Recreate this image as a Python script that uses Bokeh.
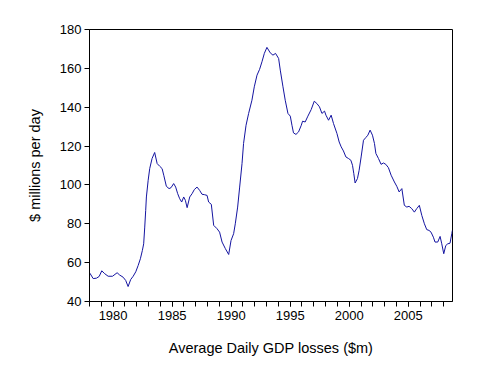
from bokeh.plotting import figure
from bokeh.models import Range1d, FixedTicker
from bokeh.embed import file_html
from bokeh.resources import INLINE

# Decimal year positions of the readings and the GDP losses ($m per day)
years = [1978.03, 1978.31, 1978.59, 1978.82, 1979.04, 1979.29, 1979.58, 1979.95,
         1980.34, 1980.56, 1980.85, 1981.07, 1981.27, 1981.49, 1981.70, 1981.92,
         1982.12, 1982.31, 1982.48, 1982.59, 1982.68, 1982.76, 1982.82, 1982.97,
         1983.10, 1983.30, 1983.52, 1983.73, 1983.95, 1984.15, 1984.29, 1984.51,
         1984.74, 1984.91, 1985.13, 1985.30, 1985.47, 1985.64, 1985.81, 1985.98,
         1986.12, 1986.27, 1986.49, 1986.69, 1986.88, 1987.11, 1987.33, 1987.53,
         1987.73, 1987.96, 1988.09, 1988.32, 1988.52, 1988.80, 1989.02, 1989.23,
         1989.51, 1989.79, 1989.99, 1990.21, 1990.35, 1990.55, 1990.72, 1990.92,
         1991.05, 1991.26, 1991.48, 1991.76, 1991.96, 1992.19, 1992.41, 1992.61,
         1992.81, 1993.03, 1993.31, 1993.54, 1993.76, 1994.02, 1994.16, 1994.39,
         1994.58, 1994.81, 1995.01, 1995.15, 1995.28, 1995.49, 1995.71, 1995.94,
         1996.05, 1996.27, 1996.50, 1996.78, 1997.04, 1997.26, 1997.48, 1997.69,
         1997.91, 1998.03, 1998.25, 1998.47, 1998.67, 1998.96, 1999.15, 1999.32,
         1999.51, 1999.72, 1999.94, 2000.14, 2000.28, 2000.39, 2000.50, 2000.70,
         2000.84, 2001.01, 2001.21, 2001.41, 2001.58, 2001.77, 2001.97, 2002.14,
         2002.26, 2002.48, 2002.70, 2002.90, 2003.10, 2003.32, 2003.55, 2003.83,
         2004.03, 2004.23, 2004.46, 2004.67, 2004.88, 2005.07, 2005.30, 2005.52,
         2005.72, 2005.94, 2006.15, 2006.37, 2006.57, 2006.76, 2006.93, 2007.13,
         2007.27, 2007.50, 2007.70, 2007.84, 2008.01, 2008.18, 2008.35, 2008.54,
         2008.69, 2008.74]

losses = [54.6, 51.8, 52.0, 52.9, 55.8, 54.3, 53.0, 53.0,
          54.8, 53.6, 52.5, 50.8, 47.7, 51.3, 53.0, 55.3,
          58.5, 62.0, 66.3, 69.7, 78.3, 86.9, 93.8, 102.4,
          108.4, 113.6, 116.7, 111.0, 109.6, 108.4, 105.0, 99.3,
          98.1, 98.6, 100.7, 98.9, 95.5, 92.9, 91.2, 93.8,
          92.1, 88.3, 93.8, 95.5, 97.6, 98.9, 97.2, 95.2,
          95.0, 94.6, 91.2, 90.0, 79.2, 77.5, 75.7, 70.6,
          67.2, 64.2, 71.4, 74.9, 80.0, 88.6, 98.9, 111.0,
          121.3, 130.7, 136.8, 143.6, 150.5, 156.5, 159.5, 163.4,
          167.7, 170.8, 168.0, 166.8, 167.7, 165.1, 159.1, 150.5,
          143.6, 136.8, 135.4, 130.7, 126.8, 126.0, 127.3, 130.7,
          132.8, 132.4, 135.4, 138.8, 143.1, 141.9, 140.2, 136.8,
          138.0, 135.9, 133.3, 135.9, 131.6, 126.5, 122.1, 119.6,
          117.5, 114.4, 113.6, 112.7, 110.1, 105.8, 101.0, 103.3,
          107.5, 114.4, 123.0, 124.4, 125.6, 128.2, 125.6, 121.3,
          116.2, 113.6, 110.6, 111.3, 110.6, 108.9, 105.0, 101.5,
          99.3, 96.4, 98.1, 89.5, 88.6, 89.0, 87.8, 86.0,
          87.8, 89.5, 84.3, 80.0, 77.0, 76.6, 75.7, 73.1,
          70.6, 70.6, 73.5, 69.7, 64.6, 68.8, 69.7, 70.0,
          74.9, 76.6]

x_ticks = [1980, 1985, 1990, 1995, 2000, 2005]
x_minor = list(range(1978, 2009))
y_ticks = [40, 60, 80, 100, 120, 140, 160, 180]

FONT = "Liberation Sans"

p = figure(frame_width=363, frame_height=272,
           min_border_left=89, min_border_right=25,
           min_border_top=29, min_border_bottom=70,
           output_backend="svg", toolbar_location=None,
           x_range=Range1d(1978.0, 2008.75), y_range=Range1d(40, 180))

p.line(years, losses, line_color="#1414a0", line_width=1)

p.xgrid.visible = False
p.ygrid.visible = False
p.background_fill_color = "white"
p.border_fill_color = "white"
p.outline_line_color = "black"
p.outline_line_width = 1
p.outline_line_alpha = 1

p.xaxis.ticker = FixedTicker(ticks=x_ticks, minor_ticks=x_minor)
p.yaxis.ticker = FixedTicker(ticks=y_ticks)

for ax in (p.xaxis[0], p.yaxis[0]):
    ax.axis_line_color = "black"
    ax.major_tick_line_color = "black"
    ax.minor_tick_line_color = "black"
    ax.major_tick_in = 0
    ax.major_tick_out = 5
    ax.minor_tick_in = 0
    ax.minor_tick_out = 5
    ax.major_label_text_font = FONT
    ax.major_label_text_font_size = "13px"
    ax.major_label_text_color = "black"
    ax.axis_label_text_font = FONT
    ax.axis_label_text_font_size = "14.5px"
    ax.axis_label_text_font_style = "normal"
    ax.axis_label_text_color = "black"

p.yaxis.minor_tick_line_color = None
p.xaxis.major_label_standoff = 4
p.yaxis.major_label_standoff = 3
p.xaxis.axis_label = "Average Daily GDP losses ($m)"
p.yaxis.axis_label = "$ millions per day"
p.xaxis.axis_label_standoff = 17
p.yaxis.axis_label_standoff = 14

open("out.html", "w").write(file_html(p, INLINE))
